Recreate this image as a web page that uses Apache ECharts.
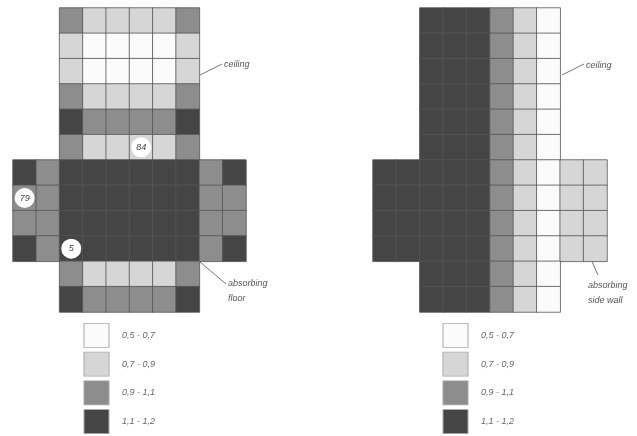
<!DOCTYPE html>
<html>
<head>
<meta charset="utf-8">
<style>html,body{margin:0;padding:0;background:#fff}#c{width:637px;height:436px}</style>
<script src="https://cdn.jsdelivr.net/npm/echarts@6/dist/echarts.min.js"></script>
</head>
<body>
<div id="c"></div>
<script>
// Shading classes (a: 0.6, b: 0.8, c: 1.0, d: 1.15), - means no panel
var classValues = {a: 0.6, b: 0.8, c: 1.0, d: 1.15};
var legendLabels = ['0,5 - 0,7', '0,7 - 0,9', '0,9 - 1,1', '1,1 - 1,2'];
var legendBounds = [[0.5, 0.7], [0.7, 0.9], [0.9, 1.1], [1.1, 1.2]];
var legendColors = ['#fbfbfb', '#d6d6d6', '#8d8d8d', '#454545'];

var leftRows = [
  '--cbbbbc--',
  '--baaaab--',
  '--baaaab--',
  '--cbbbbc--',
  '--dccccd--',
  '--cbbbbc--',
  'dcddddddcd',
  'ccddddddcc',
  'ccddddddcc',
  'dcddddddcd',
  '--cbbbbc--',
  '--dccccd--'
];
var rightRows = [
  '--dddcba--',
  '--dddcba--',
  '--dddcba--',
  '--dddcba--',
  '--dddcba--',
  '--dddcba--',
  'dddddcbabb',
  'dddddcbabb',
  'dddddcbabb',
  'dddddcbabb',
  '--dddcba--',
  '--dddcba--'
];
// Circled readings: [column, row, label]
var leftMarks = [[5, 5, '84'], [0, 7, '79'], [2, 9, '5']];

var columns = ['0','1','2','3','4','5','6','7','8','9'];
var rows = ['0','1','2','3','4','5','6','7','8','9','10','11'];
var legendColumn = ['key'];

function toCells(list) {
  var out = [];
  list.forEach(function (r, y) {
    r.split('').forEach(function (k, x) {
      if (k !== '-') out.push([x, y, classValues[k]]);
    });
  });
  return out;
}
function pieces() {
  return legendLabels.map(function (l, i) {
    return {min: legendBounds[i][0], max: legendBounds[i][1], label: l, color: legendColors[i]};
  });
}
function catAxis(d, inv, idx) {
  return {type: 'category', data: d, inverse: inv, gridIndex: idx, show: false};
}
function heat(data, idx) {
  return {
    type: 'heatmap', data: data, xAxisIndex: idx, yAxisIndex: idx, silent: true,
    itemStyle: {borderColor: '#555', borderWidth: 0.8}, emphasis: {disabled: true}
  };
}
function keyAxis(idx) {
  return {
    type: 'category', data: legendLabels, inverse: true, gridIndex: idx, position: 'right',
    axisLine: {show: false}, axisTick: {show: false}, splitLine: {show: false},
    axisLabel: {show: true, margin: 13, color: '#666', fontSize: 9, fontStyle: 'italic', fontFamily: 'Liberation Sans'}
  };
}
function keySeries(idx) {
  return {
    type: 'scatter', xAxisIndex: idx, yAxisIndex: idx, symbol: 'rect', symbolSize: [25, 24], silent: true,
    data: legendLabels.map(function (l, i) {
      return {value: ['key', l], itemStyle: {color: legendColors[i], opacity: 1, borderColor: '#aaa', borderWidth: 1}};
    })
  };
}
function leader(x1, y1, x2, y2) {
  return {type: 'line', silent: true, shape: {x1: x1, y1: y1, x2: x2, y2: y2}, style: {stroke: '#777', lineWidth: 1}};
}
function note(x, y, t) {
  return {type: 'text', silent: true, x: x, y: y, style: {text: t, fill: '#555', font: 'italic 9px "Liberation Sans"', textVerticalAlign: 'middle'}};
}

var chart = echarts.init(document.getElementById('c'), null, {renderer: 'canvas'});
chart.setOption({
  animation: false,
  backgroundColor: '#fff',
  grid: [
    {left: 13, top: 8, width: 233, height: 304},
    {left: 373, top: 8, width: 234, height: 304},
    {left: 84, top: 321, width: 25, height: 116},
    {left: 443, top: 321, width: 25, height: 116}
  ],
  xAxis: [
    catAxis(columns, false, 0), catAxis(columns, false, 1),
    catAxis(legendColumn, false, 2), catAxis(legendColumn, false, 3)
  ],
  yAxis: [catAxis(rows, true, 0), catAxis(rows, true, 1), keyAxis(2), keyAxis(3)],
  visualMap: {type: 'piecewise', show: false, seriesIndex: [0, 1], pieces: pieces()},
  series: [
    heat(toCells(leftRows), 0),
    heat(toCells(rightRows), 1),
    {
      type: 'scatter', xAxisIndex: 0, yAxisIndex: 0, symbolSize: 20, silent: true, z: 5,
      data: leftMarks.map(function (m) { return {value: [m[0], m[1]], name: m[2]}; }),
      itemStyle: {color: '#fff', opacity: 1},
      label: {show: true, position: 'inside', formatter: '{b}', color: '#444', fontSize: 9, fontStyle: 'italic', fontFamily: 'Liberation Sans'}
    },
    keySeries(2),
    keySeries(3)
  ],
  graphic: [
    leader(200, 75, 222, 64), note(224, 64, 'ceiling'),
    leader(200, 262, 226, 284), note(228, 283, 'absorbing'), note(228, 298, 'floor'),
    leader(562, 75, 584, 64), note(586, 65, 'ceiling'),
    leader(577, 228, 598, 275), note(588, 285, 'absorbing'), note(588, 300, 'side wall')
  ]
});
</script>
</body>
</html>
